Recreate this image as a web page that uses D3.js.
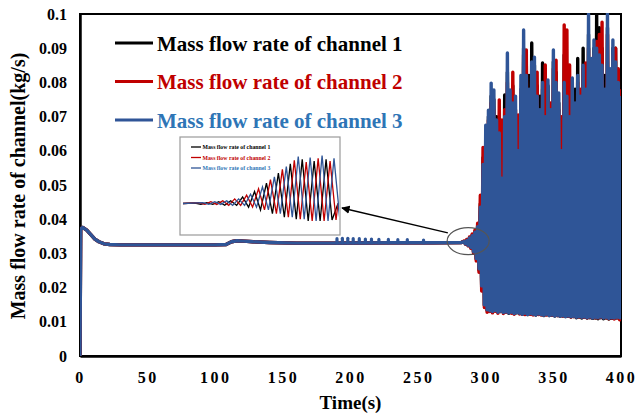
<!DOCTYPE html>
<html>
<head>
<meta charset="utf-8">
<script src="https://cdn.jsdelivr.net/npm/d3@7"></script>
<style>
  html, body { margin: 0; padding: 0; background: #fff; }
  svg { display: block; font-family: "Liberation Serif", "Times New Roman", serif; font-weight: bold; }
</style>
</head>
<body>
<div id="chart"></div>
<script>
const channelNames = ["Mass flow rate of channel 1", "Mass flow rate of channel 2", "Mass flow rate of channel 3"];
const lineColors = ["#000000", "#c00000", "#2f5597"];
const textColors = ["#000000", "#c00000", "#2e75b6"];

const xTicks = [0, 50, 100, 150, 200, 250, 300, 350, 400];
const yTicks = [0, 0.01, 0.02, 0.03, 0.04, 0.05, 0.06, 0.07, 0.08, 0.09, 0.1];

// steady part, the three channels lie on top of each other
const calmTime = [0, 0.5, 2, 5, 8, 11, 14, 18, 22, 30, 60, 100, 108, 112, 116, 121, 128, 140, 160, 190, 230, 260, 282];
const calmValue = [0, 0.0372, 0.0376, 0.0368, 0.0355, 0.0342, 0.0334, 0.0328, 0.0326, 0.0325, 0.0325, 0.0325, 0.0326,
  0.0334, 0.0337, 0.0336, 0.0334, 0.0332, 0.0330, 0.0330, 0.0331, 0.0331, 0.0332];

// small bumps on the plateau
const spikeTime = [190, 194, 198, 202, 206.5, 211, 215.5, 221, 228, 235, 242, 254];
const spikeValue = [0.0343, 0.0344, 0.0344, 0.0343, 0.0343, 0.0342, 0.0342, 0.0341, 0.0341, 0.0340, 0.0340, 0.0339];
const spikeBase = 0.0331;

// oscillation: peaks every 2 s from 284 s, troughs in between
const peakTime = d3.range(284, 401, 2);
const troughTime = d3.range(285, 400, 2);

const peaks1 = [0.0335, 0.0339, 0.0346, 0.0354, 0.0364, 0.0380, 0.0445, 0.0580, 0.0640, 0.0700,
  0.0760, 0.0750, 0.0700, 0.0700, 0.0640, 0.0763, 0.0830, 0.0760, 0.0790, 0.0700,
  0.0650, 0.0760, 0.0900, 0.0850, 0.0820, 0.0915, 0.0850, 0.0790, 0.0760, 0.0857,
  0.0780, 0.0790, 0.0700, 0.0860, 0.0830, 0.0740, 0.0650, 0.0880, 0.0850, 0.0780,
  0.0790, 0.0780, 0.0870, 0.0740, 0.0900, 0.0820, 0.0940, 0.0860, 0.0900, 0.1000,
  0.0960, 0.0900, 0.0820, 0.0960, 0.0820, 0.0900, 0.0900, 0.0780, 0.0807];
const peaks2 = [0.0336, 0.0341, 0.0348, 0.0357, 0.0368, 0.0388, 0.0470, 0.0610, 0.0610, 0.0690,
  0.0740, 0.0720, 0.0660, 0.0749, 0.0690, 0.0720, 0.0800, 0.0740, 0.0830, 0.0720,
  0.0705, 0.0780, 0.0880, 0.0895, 0.0760, 0.0840, 0.0820, 0.0830, 0.0700, 0.0780,
  0.0851, 0.0760, 0.0740, 0.0840, 0.0865, 0.0720, 0.0700, 0.0968, 0.0953, 0.0851,
  0.0760, 0.0720, 0.0800, 0.0780, 0.0840, 0.0857, 0.0900, 0.0840, 0.0880, 0.0920,
  0.0940, 0.0976, 0.0760, 0.0940, 0.0800, 0.0880, 0.0900, 0.0840, 0.0780];
const peaks3 = [0.0334, 0.0338, 0.0345, 0.0352, 0.0362, 0.0378, 0.0435, 0.0560, 0.0675, 0.0719,
  0.0798, 0.0778, 0.0690, 0.0652, 0.0520, 0.0700, 0.0886, 0.0778, 0.0740, 0.0760,
  0.0600, 0.0820, 0.0953, 0.0820, 0.0780, 0.0860, 0.0874, 0.0760, 0.0720, 0.0800,
  0.0700, 0.0807, 0.0720, 0.0895, 0.0800, 0.0769, 0.0600, 0.0800, 0.0760, 0.0700,
  0.0813, 0.0740, 0.0820, 0.0760, 0.0850, 0.0780, 0.1000, 0.0870, 0.0924, 0.0900,
  0.0880, 0.0850, 0.0780, 0.1000, 0.0840, 0.0924, 0.0860, 0.0800, 0.0760];

const troughs1 = [0.0328, 0.0323, 0.0317, 0.0303, 0.0283, 0.0252, 0.0200, 0.0148, 0.0134, 0.0131,
  0.0131, 0.0132, 0.0128, 0.0130, 0.0127, 0.0129, 0.0125, 0.0128, 0.0124, 0.0126,
  0.0125, 0.0122, 0.0124, 0.0121, 0.0123, 0.0122, 0.0120, 0.0122, 0.0121, 0.0118,
  0.0121, 0.0118, 0.0119, 0.0117, 0.0118, 0.0116, 0.0117, 0.0115, 0.0116, 0.0114,
  0.0115, 0.0112, 0.0114, 0.0111, 0.0113, 0.0111, 0.0112, 0.0110, 0.0111, 0.0109,
  0.0112, 0.0109, 0.0111, 0.0108, 0.0110, 0.0110, 0.0111, 0.0109];
const troughs2 = [0.0327, 0.0322, 0.0315, 0.0300, 0.0278, 0.0245, 0.0190, 0.0142, 0.0128, 0.0130,
  0.0126, 0.0131, 0.0125, 0.0130, 0.0124, 0.0128, 0.0127, 0.0125, 0.0122, 0.0128,
  0.0123, 0.0123, 0.0121, 0.0122, 0.0122, 0.0120, 0.0121, 0.0121, 0.0120, 0.0120,
  0.0120, 0.0119, 0.0119, 0.0118, 0.0118, 0.0117, 0.0117, 0.0116, 0.0116, 0.0114,
  0.0115, 0.0114, 0.0114, 0.0113, 0.0113, 0.0111, 0.0113, 0.0112, 0.0112, 0.0111,
  0.0113, 0.0112, 0.0112, 0.0109, 0.0111, 0.0108, 0.0112, 0.0106];
const troughs3 = [0.0328, 0.0324, 0.0318, 0.0305, 0.0285, 0.0255, 0.0205, 0.0150, 0.0135, 0.0132,
  0.0130, 0.0133, 0.0128, 0.0131, 0.0127, 0.0129, 0.0126, 0.0128, 0.0124, 0.0127,
  0.0125, 0.0122, 0.0125, 0.0121, 0.0124, 0.0122, 0.0120, 0.0123, 0.0121, 0.0119,
  0.0122, 0.0118, 0.0120, 0.0117, 0.0119, 0.0116, 0.0118, 0.0115, 0.0117, 0.0115,
  0.0116, 0.0113, 0.0115, 0.0113, 0.0114, 0.0112, 0.0114, 0.0111, 0.0113, 0.0112,
  0.0114, 0.0111, 0.0113, 0.0110, 0.0112, 0.0111, 0.0113, 0.0112];

// inset: close-up of the onset of the oscillation
const insetStart = 268;
const insetEnd = 294;
const insetBase = 0.0331;
const insetPeakTime = d3.range(270, 293, 2);
const insetPhase = [0, 0.67, 1.33];
const insetPeaks1 = [0.03315, 0.0332, 0.0333, 0.0334, 0.0338, 0.0344, 0.0353, 0.0364, 0.0374, 0.0379, 0.0377, 0.0379];
const insetPeaks2 = [0.0332, 0.0333, 0.0334, 0.0336, 0.0340, 0.0347, 0.0357, 0.0368, 0.0378, 0.0376, 0.0380, 0.0377];
const insetPeaks3 = [0.0332, 0.0333, 0.0334, 0.0336, 0.0341, 0.0349, 0.0360, 0.0371, 0.0382, 0.0381, 0.0383, 0.0380];
const insetTroughs = [0.0330, 0.0330, 0.0329, 0.0329, 0.0327, 0.0324, 0.0320, 0.0316, 0.0314, 0.0312, 0.0312, 0.0313];

const width = 638;
const height = 414;
const margin = { top: 14, right: 17, bottom: 58, left: 80 };

const svg = d3.select("#chart")
  .append("svg")
  .attr("width", width)
  .attr("height", height);

const x = d3.scaleLinear().domain([0, 400]).range([margin.left, width - margin.right]);
const y = d3.scaleLinear().domain([0, 0.1]).range([height - margin.bottom, margin.top]);

function buildSeries(peaks, troughs) {
  const pts = calmTime.map((t, i) => [t, calmValue[i]]);
  peakTime.forEach((t, i) => {
    pts.push([t, peaks[i]]);
    if (i < troughTime.length) pts.push([troughTime[i], troughs[i]]);
  });
  return pts;
}

const series = [
  buildSeries(peaks1, troughs1),
  buildSeries(peaks2, troughs2),
  buildSeries(peaks3, troughs3)
];

// frame
svg.append("rect")
  .attr("x", x(0))
  .attr("y", y(0.1))
  .attr("width", x(400) - x(0))
  .attr("height", y(0) - y(0.1))
  .attr("fill", "none")
  .attr("stroke", "#000")
  .attr("stroke-width", 2);

// axes
const gy = svg.append("g")
  .attr("transform", `translate(${x(0)},0)`)
  .call(d3.axisLeft(y).tickValues(yTicks).tickSize(0).tickPadding(13).tickFormat(d3.format("~g")));
gy.select(".domain").attr("stroke-width", 2.5);
gy.selectAll("text")
  .attr("font-family", "Liberation Serif")
  .attr("font-weight", "bold")
  .attr("font-size", 16)
  .attr("fill", "#000");

const gx = svg.append("g")
  .attr("transform", `translate(0,${y(0)})`)
  .call(d3.axisBottom(x).tickValues(xTicks).tickSize(0).tickFormat(d3.format("d")));
gx.select(".domain").attr("stroke-width", 2.5);
gx.selectAll("text")
  .attr("y", 27)
  .attr("dy", null)
  .attr("font-family", "Liberation Serif")
  .attr("font-weight", "bold")
  .attr("font-size", 16)
  .attr("letter-spacing", "2.5px")
  .attr("fill", "#000");

// axis titles
svg.append("text")
  .attr("transform", `translate(25,${(y(0) + y(0.1)) / 2 + 1}) rotate(-90)`)
  .attr("text-anchor", "middle")
  .attr("font-size", 20)
  .text("Mass flow rate of channel(kg/s)");

svg.append("text")
  .attr("x", (x(0) + x(400)) / 2)
  .attr("y", 409)
  .attr("text-anchor", "middle")
  .attr("font-size", 19)
  .text("Time(s)");

// data lines
svg.append("clipPath")
  .attr("id", "plot-clip")
  .append("rect")
  .attr("x", x(0))
  .attr("y", y(0.1) - 1)
  .attr("width", x(400) - x(0))
  .attr("height", y(0) - y(0.1) + 1);

const line = d3.line()
  .x(d => x(d[0]))
  .y(d => y(d[1]));

const plot = svg.append("g").attr("clip-path", "url(#plot-clip)");

plot.selectAll("path.series")
  .data(series)
  .join("path")
  .attr("class", "series")
  .attr("fill", "none")
  .attr("stroke", (d, i) => lineColors[i])
  .attr("stroke-width", 3.4)
  .attr("stroke-linejoin", "round")
  .attr("d", line);

plot.selectAll("line.spike")
  .data(spikeTime)
  .join("line")
  .attr("class", "spike")
  .attr("x1", d => x(d))
  .attr("x2", d => x(d))
  .attr("y1", y(spikeBase))
  .attr("y2", (d, i) => y(spikeValue[i]))
  .attr("stroke", lineColors[2])
  .attr("stroke-width", 3.2)
  .attr("stroke-linecap", "round");

// legend
const legend = svg.append("g")
  .selectAll("g")
  .data(channelNames)
  .join("g")
  .attr("transform", (d, i) => `translate(115,${43 + i * 38.5})`);

legend.append("line")
  .attr("x1", 0)
  .attr("x2", 38)
  .attr("stroke", (d, i) => lineColors[i])
  .attr("stroke-width", 3.2);

legend.append("text")
  .attr("x", 42)
  .attr("y", 7.5)
  .attr("font-size", 21)
  .attr("fill", (d, i) => textColors[i])
  .text(d => d);

// inset picture
const inset = { x0: 180, y0: 137, x1: 340, y1: 235 };
const ix = d3.scaleLinear().domain([insetStart, insetEnd]).range([183, 338]);
const iy = d3.scaleLinear().domain([0.030, 0.040]).range([232, 140]);

svg.append("rect")
  .attr("x", inset.x0)
  .attr("y", inset.y0)
  .attr("width", inset.x1 - inset.x0)
  .attr("height", inset.y1 - inset.y0)
  .attr("fill", "#fff")
  .attr("stroke", "#9a9a9a")
  .attr("stroke-width", 1.2);

svg.append("clipPath")
  .attr("id", "inset-clip")
  .append("rect")
  .attr("x", 182)
  .attr("y", 139)
  .attr("width", 157)
  .attr("height", 94);

const insetSeries = [insetPeaks1, insetPeaks2, insetPeaks3].map((peaks, c) => {
  const pts = [[insetStart, insetBase]];
  insetPeakTime.forEach((t, i) => {
    pts.push([t + insetPhase[c], peaks[i]]);
    pts.push([t + insetPhase[c] + 1, insetTroughs[i]]);
  });
  pts.push([insetEnd, insetBase]);
  return pts;
});

const insetLine = d3.line()
  .x(d => ix(d[0]))
  .y(d => iy(d[1]));

svg.append("g")
  .attr("clip-path", "url(#inset-clip)")
  .selectAll("path")
  .data(insetSeries)
  .join("path")
  .attr("fill", "none")
  .attr("stroke", (d, i) => lineColors[i])
  .attr("stroke-width", 1.3)
  .attr("d", insetLine);

const insetLegend = svg.append("g")
  .selectAll("g")
  .data(channelNames)
  .join("g")
  .attr("transform", (d, i) => `translate(191,${147 + i * 10.5})`);

insetLegend.append("line")
  .attr("x1", 0)
  .attr("x2", 10)
  .attr("stroke", (d, i) => lineColors[i])
  .attr("stroke-width", 1.3);

insetLegend.append("text")
  .attr("x", 11.5)
  .attr("y", 2)
  .attr("font-size", 5.8)
  .attr("fill", (d, i) => textColors[i])
  .text(d => d);

// ellipse round the onset and arrow to the inset
const onset = [287, 0.0336];
svg.append("ellipse")
  .attr("cx", x(onset[0]))
  .attr("cy", y(onset[1]))
  .attr("rx", 21)
  .attr("ry", 13.5)
  .attr("fill", "none")
  .attr("stroke", "#555")
  .attr("stroke-width", 1.2);

svg.append("defs")
  .append("marker")
  .attr("id", "arrow")
  .attr("viewBox", "0 0 10 10")
  .attr("refX", 9)
  .attr("refY", 5)
  .attr("markerWidth", 6)
  .attr("markerHeight", 6)
  .attr("orient", "auto")
  .append("path")
  .attr("d", "M0,0L10,5L0,10z")
  .attr("fill", "#000");

const arrowFrom = [272, 0.036];
svg.append("line")
  .attr("x1", x(arrowFrom[0]))
  .attr("y1", y(arrowFrom[1]))
  .attr("x2", inset.x1 + 2)
  .attr("y2", 208)
  .attr("stroke", "#000")
  .attr("stroke-width", 1.4)
  .attr("marker-end", "url(#arrow)");
</script>
</body>
</html>
